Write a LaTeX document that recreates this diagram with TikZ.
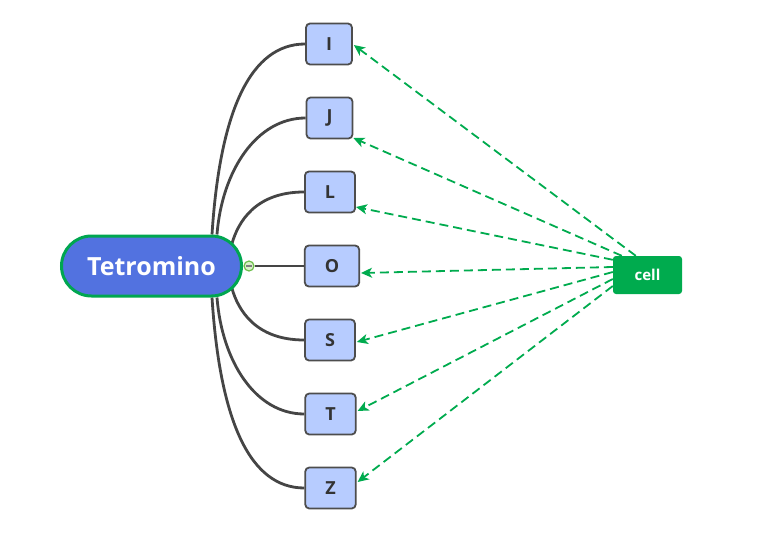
\documentclass[tikz,border=0pt]{standalone}
\usepackage{fontspec}
\setmainfont{Open Sans}
\usetikzlibrary{calc,backgrounds,arrows.meta}
\definecolor{tetfill}{HTML}{5272E0}
\definecolor{tetgreen}{HTML}{00A650}
\definecolor{boxfill}{HTML}{B7CCFF}
\definecolor{boxdraw}{HTML}{4D4D4D}
\definecolor{conn}{HTML}{454545}
\definecolor{cellgreen}{HTML}{00AB4E}
\definecolor{collgreen}{HTML}{6DBE4B}
\definecolor{collfill}{HTML}{D8F0C8}
\begin{document}
\begin{tikzpicture}[x=1pt,y=-1pt,
  mainnode/.style={draw=tetgreen, line width=3pt, fill=tetfill, rounded corners=30pt,
    minimum width=180pt, minimum height=60pt, text=white, inner sep=0pt,
    font=\bfseries\fontsize{25}{25}\selectfont},
  letterbox/.style={draw=boxdraw, line width=1.8pt, fill=boxfill, rounded corners=4pt,
    minimum height=41pt, inner xsep=20pt, inner ysep=0pt, text=black!80,
    font=\bfseries\fontsize{18}{18}\selectfont},
  cellbox/.style={fill=cellgreen, rounded corners=3pt, minimum width=69pt, minimum height=38pt,
    text=white, inner sep=0pt, font=\bfseries\fontsize{15}{15}\selectfont},
  branch/.style={draw=conn, line width=2.8pt},
  rel/.style={draw=cellgreen, line width=1.8pt, dash pattern=on 9pt off 5pt,
    -{Stealth[length=11pt,width=10pt,inset=3pt]}},
  collapser/.style={circle, draw=collgreen, fill=collfill, line width=1.2pt, minimum size=10pt, inner sep=0pt,
    path picture={\draw[conn!70, line width=1.2pt]
      ($(path picture bounding box.west)+(2.4pt,0pt)$) -- ($(path picture bounding box.east)+(-2.4pt,0pt)$);}}
]
\useasboundingbox (0,0) rectangle (764,549);

\node[mainnode] (tet) at (151.5,266) {Tetromino};
\node[collapser] (coll) at (249,266) {};

\node[letterbox] (I) at (329,44) {I};
\node[letterbox] (J) at (329.5,118) {J};
\node[letterbox] (L) at (330,192) {L};
\node[letterbox] (O) at (332,266) {O};
\node[letterbox] (S) at (330,340) {S};
\node[letterbox] (T) at (330.5,414) {T};
\node[letterbox] (Z) at (330.5,488) {Z};

\node[cellbox] (cell) at (647.5,275) {cell};

\coordinate (sI) at ($(tet.north)+(60.5,0)$);
\coordinate (sJ) at ($(tet.north)+(65.5,0)$);
\coordinate (sL) at ($(tet.north)+(80.5,9)$);
\coordinate (sS) at ($(tet.south)+(80.5,-9)$);
\coordinate (sT) at ($(tet.south)+(65.5,0)$);
\coordinate (sZ) at ($(tet.south)+(60.5,0)$);

\begin{scope}[on background layer]
\draw[branch] (sI) .. controls +(8,-125) and +(-54,0) .. (I.west);
\draw[branch] (sJ) .. controls +(5,-64) and +(-49,0) .. (J.west);
\draw[branch] (sL) .. controls +(6,-21) and +(-49,0) .. (L.west);
\draw[branch] (sS) .. controls +(6,21) and +(-49,0) .. (S.west);
\draw[branch] (sT) .. controls +(5,64) and +(-49,0) .. (T.west);
\draw[branch] (sZ) .. controls +(8,125) and +(-54,0) .. (Z.west);
\end{scope}
\draw[branch] (coll.east) -- (O.west);

\draw[rel] ($(cell.north west)+(23,0)$) -- ($(I.east)+(1,1)$);
\draw[rel] ($(cell.north west)+(9,0)$) -- ($(J.east)+(0,20)$);
\draw[rel] ($(cell.north west)+(0,4)$) -- ($(L.east)+(0,15)$);
\draw[rel] ($(cell.west)+(0,-8)$) -- ($(O.east)+(1,7)$);
\draw[rel] ($(cell.west)+(0,-3)$) -- ($(S.east)+(1,2)$);
\draw[rel] ($(cell.west)+(0,4)$) -- ($(T.east)+(1,-3)$);
\draw[rel] ($(cell.west)+(0,11)$) -- ($(Z.east)+(1,-6)$);
\end{tikzpicture}
\end{document}
